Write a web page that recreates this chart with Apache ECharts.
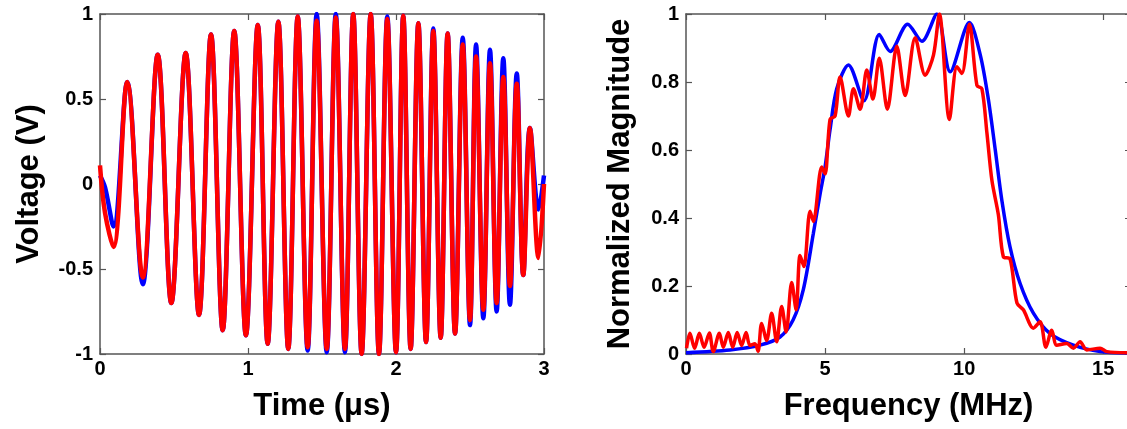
<!doctype html>
<html>
<head>
<meta charset="utf-8">
<title>Chirp and spectrum</title>
<script src="https://cdn.jsdelivr.net/npm/echarts@6/dist/echarts.min.js"></script>
<style>
  html, body { margin: 0; padding: 0; background: #fff; }
  #main { width: 1127px; height: 429px; }
</style>
</head>
<body>
<div id="main"></div>
<script>
// time signal, extrema (us, V)
var chirpT = [0, 0.034, 0.091, 0.184, 0.289, 0.390, 0.482, 0.579, 0.669, 0.750, 0.829, 0.907, 0.986,
  1.066, 1.133, 1.205, 1.272, 1.336, 1.403, 1.464, 1.532, 1.593, 1.655, 1.711, 1.768, 1.829, 1.885,
  1.941, 2.000, 2.049, 2.099, 2.151, 2.203, 2.252, 2.302, 2.349, 2.399, 2.451, 2.500, 2.541, 2.590,
  2.635, 2.680, 2.725, 2.770, 2.816, 2.860, 2.905, 2.963, 3.0];
var chirpBlue = [0.05, -0.02, -0.25, 0.60, -0.59, 0.76, -0.70, 0.77, -0.77, 0.88, -0.86, 0.90, -0.89,
  0.935, -0.94, 0.955, -0.97, 0.985, -0.98, 1.0, -0.99, 1.0, -0.99, 1.0, -1.0, 1.0, -1.0,
  0.985, -0.99, 0.99, -0.97, 0.945, -0.93, 0.915, -0.905, 0.885, -0.88, 0.86, -0.83, 0.82, -0.79,
  0.79, -0.75, 0.74, -0.71, 0.65, -0.535, 0.33, -0.15, 0.05];
var chirpRed = [0.11, -0.17, -0.37, 0.60, -0.55, 0.76, -0.70, 0.77, -0.77, 0.88, -0.86, 0.90, -0.89,
  0.935, -0.94, 0.955, -0.97, 0.985, -0.96, 0.96, -0.97, 0.98, -0.97, 1.0, -1.0, 1.0, -1.0,
  0.97, -0.99, 0.99, -0.97, 0.945, -0.93, 0.90, -0.905, 0.885, -0.88, 0.82, -0.80, 0.75, -0.74,
  0.71, -0.70, 0.63, -0.60, 0.59, -0.535, 0.33, -0.435, 0.0];

// spectrum (MHz, normalized)
var specBlueF = [0, 1.58, 2.66, 3.38, 3.85, 4.22, 4.58, 4.82, 5.0, 5.18, 5.42, 5.84, 6.4, 6.95, 7.34,
  7.97, 8.48, 9.02, 9.5, 10.19, 10.58, 10.87, 11.12, 11.36, 11.65, 12.01, 12.49, 13.09, 13.93, 14.89, 15.86];
var specBlue = [0.004, 0.012, 0.026, 0.05, 0.1, 0.19, 0.355, 0.47, 0.55, 0.66, 0.78, 0.85, 0.745, 0.94, 0.89,
  0.97, 0.92, 1.0, 0.83, 0.975, 0.88, 0.75, 0.6, 0.45, 0.315, 0.208, 0.12, 0.06, 0.026, 0.007, 0.003];
var specRedF = [0.02, 0.14, 0.31, 0.48, 0.65, 0.84, 0.98, 1.2, 1.34, 1.52, 1.68, 1.84, 2.0, 2.16, 2.3, 2.48, 2.59,
  2.72, 2.9, 3.08, 3.26, 3.44, 3.6, 3.8, 3.96, 4.1, 4.24, 4.46, 4.58, 4.88, 5.0, 5.18, 5.36, 5.54,
  5.84, 6.02, 6.26, 6.5, 6.72, 6.95, 7.24, 7.58, 7.88, 8.24, 8.6, 8.9, 9.11, 9.47, 9.74, 9.92, 10.19,
  10.46, 10.64, 10.82, 11.0, 11.23, 11.41, 11.65, 11.9, 12.13, 12.49, 12.73, 12.94, 13.15, 13.33,
  13.69, 13.93, 14.17, 14.41, 14.89, 15.13, 15.86];
var specRed = [0.017, 0.061, 0.017, 0.061, 0.02, 0.062, 0.007, 0.061, 0.02, 0.063, 0.02, 0.063, 0.025, 0.063, 0.025, 0.03, 0.008,
  0.09, 0.04, 0.12, 0.036, 0.14, 0.065, 0.21, 0.13, 0.29, 0.257, 0.42, 0.39, 0.55, 0.53, 0.69, 0.70, 0.815,
  0.70, 0.78, 0.72, 0.835, 0.75, 0.87, 0.72, 0.905, 0.76, 0.93, 0.82, 0.88, 1.0, 0.69, 0.845, 0.825, 0.97,
  0.79, 0.78, 0.65, 0.51, 0.41, 0.286, 0.28, 0.15, 0.13, 0.076, 0.095, 0.02, 0.07, 0.026,
  0.031, 0.017, 0.036, 0.012, 0.017, 0.007, 0.004];

var timeTicks = { min: 0, max: 3, interval: 1 };
var voltTicks = { min: -1, max: 1, interval: 0.5 };
var freqTicks = { min: 0, max: 16, interval: 5 };
var magTicks = { min: 0, max: 1, interval: 0.2 };

function pairs(xs, ys) {
  var out = [];
  for (var i = 0; i < xs.length; i++) out.push([xs[i], ys[i]]);
  return out;
}

var fontFam = '"Liberation Sans", Arial, sans-serif';
var boxLine = { show: true, onZero: false, lineStyle: { color: '#555', width: 1.5 } };
var tickIn = { show: true, inside: true, length: 6, lineStyle: { color: '#555', width: 1.2 } };
var tickLabel = { fontFamily: fontFam, fontWeight: 'bold', fontSize: 20, color: '#000', showMaxLabel: true };
var nameText = { fontFamily: fontFam, fontWeight: 'bold', fontSize: 31, color: '#000' };

function mainAxis(range, grid, pos, name, gap, labelMargin) {
  return {
    type: 'value', gridIndex: grid, position: pos,
    min: range.min, max: range.max, interval: range.interval,
    name: name, nameLocation: 'middle', nameGap: gap, nameTextStyle: nameText,
    axisLine: boxLine, axisTick: tickIn, splitLine: { show: false },
    axisLabel: Object.assign({ margin: labelMargin }, tickLabel)
  };
}
function sideAxis(range, grid, pos) {
  return {
    type: 'value', gridIndex: grid, position: pos,
    min: range.min, max: range.max, interval: range.interval,
    axisLine: boxLine, axisTick: tickIn, splitLine: { show: false },
    axisLabel: { show: false }
  };
}

var freqAxis = mainAxis(freqTicks, 1, 'bottom', 'Frequency (MHz)', 37, 5);
freqAxis.axisLabel.showMaxLabel = false;

var chart = echarts.init(document.getElementById('main'));
chart.setOption({
  animation: false,
  grid: [
    { left: 100, top: 14, width: 444, height: 340, outerBoundsMode: 'none' },
    { left: 686, top: 14, width: 445, height: 340, outerBoundsMode: 'none' }
  ],
  xAxis: [
    mainAxis(timeTicks, 0, 'bottom', 'Time (\u03bcs)', 37, 5),
    sideAxis(timeTicks, 0, 'top'),
    freqAxis,
    sideAxis(freqTicks, 1, 'top')
  ],
  yAxis: [
    mainAxis(voltTicks, 0, 'left', 'Voltage (V)', 55, 7),
    sideAxis(voltTicks, 0, 'right'),
    mainAxis(magTicks, 1, 'left', 'Normalized Magnitude', 50, 7),
    sideAxis(magTicks, 1, 'right')
  ],
  series: [
    { type: 'line', xAxisIndex: 0, yAxisIndex: 0, data: pairs(chirpT, chirpBlue), smooth: 0.36,
      showSymbol: false, lineStyle: { color: '#0000ff', width: 4.5 } },
    { type: 'line', xAxisIndex: 0, yAxisIndex: 0, data: pairs(chirpT, chirpRed), smooth: 0.36,
      showSymbol: false, lineStyle: { color: '#ff0000', width: 4.5 } },
    { type: 'line', xAxisIndex: 2, yAxisIndex: 2, data: pairs(specBlueF, specBlue), smooth: 0.3,
      showSymbol: false, lineStyle: { color: '#0000ff', width: 3.5 } },
    { type: 'line', xAxisIndex: 2, yAxisIndex: 2, data: pairs(specRedF, specRed), smooth: 0.3,
      showSymbol: false, lineStyle: { color: '#ff0000', width: 3.5 } }
  ]
});
</script>
</body>
</html>
